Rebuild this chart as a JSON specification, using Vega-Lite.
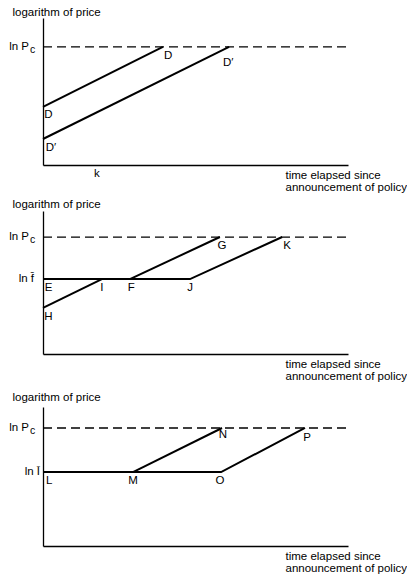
{
  "$schema": "https://vega.github.io/schema/vega-lite/v6.json",
  "padding": {"left": 9, "top": 6, "right": 0, "bottom": 0},
  "background": "white",
  "bounds": "flush",
  "spacing": 46,
  "config": {
    "font": "Liberation Sans",
    "view": {"stroke": null},
    "axis": {"grid": false, "ticks": false, "labels": false, "domainColor": "black", "domainWidth": 1.3, "titleFont": "Liberation Sans", "titleFontWeight": "normal", "titleFontSize": 11.5, "titleColor": "black"},
    "axisY": {"titleAngle": 0, "titleAlign": "left", "titleBaseline": "middle", "titleX": -31, "titleY": -6},
    "axisX": {"titleAlign": "left", "titleBaseline": "top", "titleX": 242, "titleY": 4, "titleLineHeight": 12.5, "titleAnchor": null},
    "text": {"font": "Liberation Sans", "fontSize": 11.5, "color": "black"},
    "line": {"color": "black"}
  },
  "vconcat": [
    {
      "width": 305,
      "height": 147,
      "layer": [
        {
          "data": {"values": [{"t": 0, "p": 80.3}, {"t": 100, "p": 80.3}]},
          "mark": {"type": "line", "strokeDash": [9, 5], "strokeWidth": 1.3},
          "encoding": {
            "x": {"field": "t", "type": "quantitative", "scale": {"domain": [0, 100], "nice": false, "zero": false}, "axis": {"title": ["time elapsed since", "announcement of policy"]}},
            "y": {"field": "p", "type": "quantitative", "scale": {"domain": [0, 100], "nice": false, "zero": false}, "axis": {"title": "logarithm of price", "titleY": -6}}
          }
        },
        {
          "data": {"values": [
            {"seg": "D", "t": 0, "p": 39.5}, {"seg": "D", "t": 39.3, "p": 80.3},
            {"seg": "D'", "t": 0, "p": 17.7}, {"seg": "D'", "t": 61, "p": 80.3}
          ]},
          "mark": {"type": "line", "strokeWidth": 2},
          "encoding": {
            "x": {"field": "t", "type": "quantitative"},
            "y": {"field": "p", "type": "quantitative"},
            "detail": {"field": "seg"}
          }
        },
        {
          "data": {"values": [
            {"t": 41.0, "p": 74.1, "label": "D"},
            {"t": 60.7, "p": 69.4, "label": "D′"},
            {"t": 1.8, "p": 34.0, "label": "D"},
            {"t": 2.6, "p": 11.6, "label": "D′"},
            {"t": 17.7, "p": -6.1, "label": "k"}
          ]},
          "mark": {"type": "text", "align": "center", "baseline": "middle"},
          "encoding": {
            "x": {"field": "t", "type": "quantitative"},
            "y": {"field": "p", "type": "quantitative"},
            "text": {"field": "label"}
          }
        },
        {
          "data": {"values": [{"t": 0, "p": 80.3, "label": "ln P"}]},
          "mark": {"type": "text", "align": "right", "baseline": "middle", "dx": -14},
          "encoding": {
            "x": {"field": "t", "type": "quantitative"},
            "y": {"field": "p", "type": "quantitative"},
            "text": {"field": "label"}
          }
        },
        {
          "data": {"values": [{"t": 0, "p": 80.3, "label": "c"}]},
          "mark": {"type": "text", "align": "left", "baseline": "middle", "dx": -13, "dy": 3, "fontSize": 10.5},
          "encoding": {
            "x": {"field": "t", "type": "quantitative"},
            "y": {"field": "p", "type": "quantitative"},
            "text": {"field": "label"}
          }
        }
      ]
    },
    {
      "bounds": "flush",
      "spacing": 53,
      "vconcat": [
        {
          "width": 305,
          "height": 143,
          "layer": [
            {
              "data": {"values": [{"t": 0, "p": 81.8}, {"t": 100, "p": 81.8}]},
              "mark": {"type": "line", "strokeDash": [9, 5], "strokeWidth": 1.3},
              "encoding": {
                "x": {"field": "t", "type": "quantitative", "scale": {"domain": [0, 100], "nice": false, "zero": false}, "axis": {"title": ["time elapsed since", "announcement of policy"]}},
                "y": {"field": "p", "type": "quantitative", "scale": {"domain": [0, 100], "nice": false, "zero": false}, "axis": {"title": "logarithm of price", "titleY": -7}}
              }
            },
            {
              "data": {"values": [
                {"seg": "EJK", "t": 0, "p": 52.4}, {"seg": "EJK", "t": 48.2, "p": 52.4}, {"seg": "EJK", "t": 78.4, "p": 81.8},
                {"seg": "FG", "t": 28.5, "p": 52.4}, {"seg": "FG", "t": 58, "p": 81.8},
                {"seg": "HI", "t": 0, "p": 32.2}, {"seg": "HI", "t": 19.3, "p": 52.4}
              ]},
              "mark": {"type": "line", "strokeWidth": 2},
              "encoding": {
                "x": {"field": "t", "type": "quantitative"},
                "y": {"field": "p", "type": "quantitative"},
                "detail": {"field": "seg"}
              }
            },
            {
              "data": {"values": [
                {"t": 1.8, "p": 46.2, "label": "E"},
                {"t": 19.3, "p": 46.2, "label": "I"},
                {"t": 28.9, "p": 46.2, "label": "F"},
                {"t": 48.2, "p": 46.2, "label": "J"},
                {"t": 58.7, "p": 75.5, "label": "G"},
                {"t": 80.0, "p": 75.5, "label": "K"},
                {"t": 1.8, "p": 25.9, "label": "H"}
              ]},
              "mark": {"type": "text", "align": "center", "baseline": "middle"},
              "encoding": {
                "x": {"field": "t", "type": "quantitative"},
                "y": {"field": "p", "type": "quantitative"},
                "text": {"field": "label"}
              }
            },
            {
              "data": {"values": [{"t": 0, "p": 81.8, "label": "ln P"}]},
              "mark": {"type": "text", "align": "right", "baseline": "middle", "dx": -14},
              "encoding": {
                "x": {"field": "t", "type": "quantitative"},
                "y": {"field": "p", "type": "quantitative"},
                "text": {"field": "label"}
              }
            },
            {
              "data": {"values": [{"t": 0, "p": 81.8, "label": "c"}]},
              "mark": {"type": "text", "align": "left", "baseline": "middle", "dx": -13, "dy": 3, "fontSize": 10.5},
              "encoding": {
                "x": {"field": "t", "type": "quantitative"},
                "y": {"field": "p", "type": "quantitative"},
                "text": {"field": "label"}
              }
            },
            {
              "data": {"values": [{"t": 0, "p": 52.4, "label": "ln f̄"}]},
              "mark": {"type": "text", "align": "right", "baseline": "middle", "dx": -9},
              "encoding": {
                "x": {"field": "t", "type": "quantitative"},
                "y": {"field": "p", "type": "quantitative"},
                "text": {"field": "label"}
              }
            }
          ]
        },
        {
          "width": 305,
          "height": 139,
          "layer": [
            {
              "data": {"values": [{"t": 0, "p": 84.9}, {"t": 100, "p": 84.9}]},
              "mark": {"type": "line", "strokeDash": [9, 5], "strokeWidth": 1.3},
              "encoding": {
                "x": {"field": "t", "type": "quantitative", "scale": {"domain": [0, 100], "nice": false, "zero": false}, "axis": {"title": ["time elapsed since", "announcement of policy"]}},
                "y": {"field": "p", "type": "quantitative", "scale": {"domain": [0, 100], "nice": false, "zero": false}, "axis": {"title": "logarithm of price", "titleY": -10}}
              }
            },
            {
              "data": {"values": [
                {"seg": "LOP", "t": 0, "p": 53.2}, {"seg": "LOP", "t": 58.4, "p": 53.2}, {"seg": "LOP", "t": 85.9, "p": 84.9},
                {"seg": "MN", "t": 29.5, "p": 53.2}, {"seg": "MN", "t": 58.7, "p": 84.9}
              ]},
              "mark": {"type": "line", "strokeWidth": 2},
              "encoding": {
                "x": {"field": "t", "type": "quantitative"},
                "y": {"field": "p", "type": "quantitative"},
                "detail": {"field": "seg"}
              }
            },
            {
              "data": {"values": [
                {"t": 2.0, "p": 46.8, "label": "L"},
                {"t": 29.5, "p": 46.8, "label": "M"},
                {"t": 58.0, "p": 46.8, "label": "O"},
                {"t": 59.0, "p": 79.9, "label": "N"},
                {"t": 86.6, "p": 77.7, "label": "P"}
              ]},
              "mark": {"type": "text", "align": "center", "baseline": "middle"},
              "encoding": {
                "x": {"field": "t", "type": "quantitative"},
                "y": {"field": "p", "type": "quantitative"},
                "text": {"field": "label"}
              }
            },
            {
              "data": {"values": [{"t": 0, "p": 84.9, "label": "ln P"}]},
              "mark": {"type": "text", "align": "right", "baseline": "middle", "dx": -14},
              "encoding": {
                "x": {"field": "t", "type": "quantitative"},
                "y": {"field": "p", "type": "quantitative"},
                "text": {"field": "label"}
              }
            },
            {
              "data": {"values": [{"t": 0, "p": 84.9, "label": "c"}]},
              "mark": {"type": "text", "align": "left", "baseline": "middle", "dx": -13, "dy": 3, "fontSize": 10.5},
              "encoding": {
                "x": {"field": "t", "type": "quantitative"},
                "y": {"field": "p", "type": "quantitative"},
                "text": {"field": "label"}
              }
            },
            {
              "data": {"values": [{"t": 0, "p": 53.2, "label": "ln Ī"}]},
              "mark": {"type": "text", "align": "right", "baseline": "middle", "dx": -3},
              "encoding": {
                "x": {"field": "t", "type": "quantitative"},
                "y": {"field": "p", "type": "quantitative"},
                "text": {"field": "label"}
              }
            }
          ]
        }
      ]
    }
  ]
}
